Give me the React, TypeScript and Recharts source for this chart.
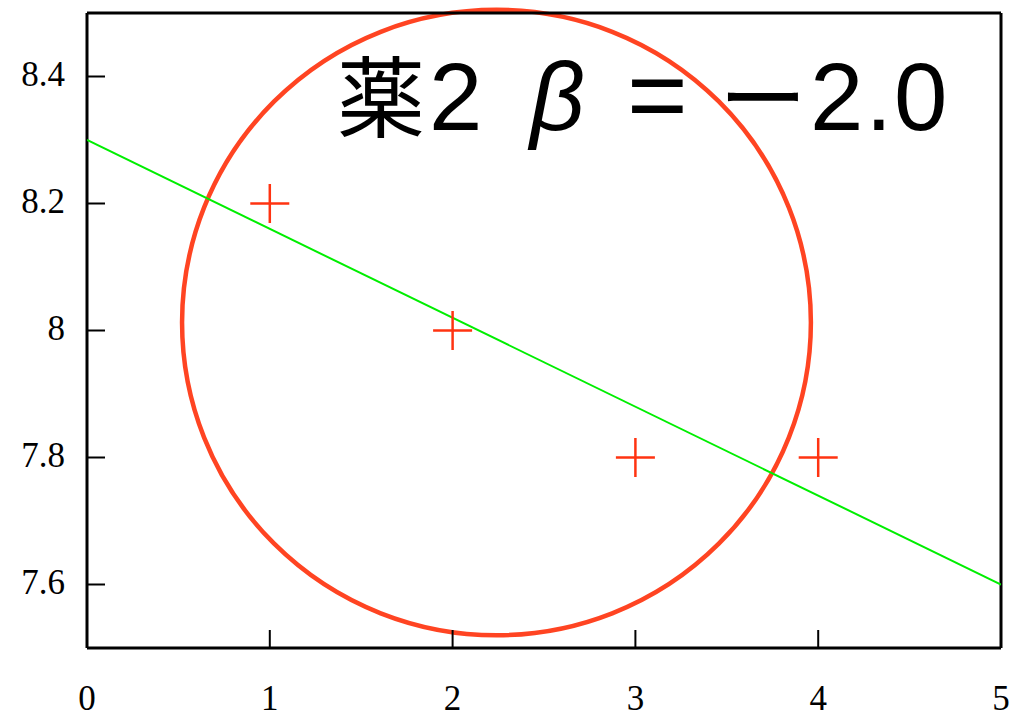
import {
  ComposedChart,
  Scatter,
  XAxis,
  YAxis,
  ReferenceArea,
  ReferenceDot,
} from "recharts";

// observed values
const obsX = [1, 2, 3, 4];
const obsY = [8.2, 8.0, 7.8, 7.8];

// fitted line end points
const fitX = [0, 5];
const fitY = [8.3, 7.6];

const xTicks = [0, 1, 2, 3, 4, 5];
const yTicks = [7.6, 7.8, 8, 8.2, 8.4];

// bounding box of the highlight ring
const ringX = [0.52, 3.96];
const ringY = [7.52, 8.505];

const caption = { x: 1.384, y: 8.315 };

const observed = obsX.map((x, i) => ({ x, y: obsY[i] }));
const fitted = fitX.map((x, i) => ({ x, y: fitY[i] }));

const RED = "#ff3311";
const RING = "#ff4422";
const GREEN = "#00ee00";

const tickFont = {
  fill: "#000",
  fontSize: 35,
  fontFamily: "'Liberation Serif', serif",
};

const CJK = "'Noto Sans CJK JP', sans-serif";
const LATIN = "'Liberation Sans', Arial, sans-serif";

function Plus(props: any) {
  const { cx, cy } = props;
  const h = 19.5;
  return (
    <g stroke={RED} strokeWidth={2.5}>
      <line x1={cx - h} y1={cy} x2={cx + h} y2={cy} />
      <line x1={cx} y1={cy - h} x2={cx} y2={cy + h} />
    </g>
  );
}

function Ring(props: any) {
  const { x, y, width, height } = props;
  return (
    <ellipse
      cx={x + width / 2}
      cy={y + height / 2}
      rx={width / 2}
      ry={height / 2}
      fill="none"
      stroke={RING}
      strokeWidth={4.5}
    />
  );
}

function Caption(props: any) {
  const { cx, cy } = props;
  return (
    <text y={cy} fill="#000">
      <tspan x={cx - 3} fontFamily={CJK} fontSize={88}>薬</tspan>
      <tspan x={cx + 89} fontFamily={LATIN} fontSize={96}>2</tspan>
      <tspan x={cx + 190} fontFamily={LATIN} fontSize={96} fontStyle="italic">β</tspan>
      <tspan x={cx + 287} fontFamily={LATIN} fontSize={104}>=</tspan>
      <tspan x={cx + 379} fontFamily={CJK} fontSize={88}>ー</tspan>
      <tspan x={cx + 470} fontFamily={LATIN} fontSize={96} letterSpacing={2}>2.0</tspan>
    </text>
  );
}

const none = () => <g />;

export default function App() {
  return (
    <div style={{ position: "absolute", left: 0, top: 0 }}>
      <ComposedChart
        width={1014}
        height={717}
        margin={{ top: 0, right: 0, bottom: 0, left: 0 }}
      >
        <XAxis
          xAxisId="b"
          dataKey="x"
          type="number"
          domain={[0, 5]}
          ticks={xTicks}
          height={69}
          tickSize={-18}
          tickMargin={55}
          tick={tickFont}
          axisLine={{ stroke: "#000", strokeWidth: 3 }}
          tickLine={{ stroke: "#000", strokeWidth: 2 }}
          allowDataOverflow
        />
        <XAxis
          xAxisId="t"
          orientation="top"
          dataKey="x"
          type="number"
          domain={[0, 5]}
          ticks={xTicks}
          height={13}
          tickSize={-18}
          tick={false}
          axisLine={{ stroke: "#000", strokeWidth: 3 }}
          tickLine={{ stroke: "#000", strokeWidth: 2 }}
          allowDataOverflow
        />
        <YAxis
          yAxisId="l"
          dataKey="y"
          type="number"
          domain={[7.5, 8.5]}
          ticks={yTicks}
          width={87}
          tickSize={-18}
          tickMargin={40}
          tick={{ ...tickFont, dy: -3 }}
          axisLine={{ stroke: "#000", strokeWidth: 3 }}
          tickLine={{ stroke: "#000", strokeWidth: 2 }}
          allowDataOverflow
        />
        <YAxis
          yAxisId="r"
          orientation="right"
          dataKey="y"
          type="number"
          domain={[7.5, 8.5]}
          ticks={yTicks}
          width={13}
          tickSize={-18}
          tick={false}
          axisLine={{ stroke: "#000", strokeWidth: 3 }}
          tickLine={{ stroke: "#000", strokeWidth: 2 }}
          allowDataOverflow
        />
        <Scatter
          xAxisId="b"
          yAxisId="l"
          data={fitted}
          line={{ stroke: GREEN, strokeWidth: 2 }}
          shape={none}
          isAnimationActive={false}
        />
        <Scatter
          xAxisId="b"
          yAxisId="l"
          data={observed}
          shape={Plus}
          isAnimationActive={false}
        />
        <ReferenceArea
          xAxisId="b"
          yAxisId="l"
          x1={ringX[0]}
          x2={ringX[1]}
          y1={ringY[0]}
          y2={ringY[1]}
          ifOverflow="visible"
          shape={Ring}
        />
        <ReferenceDot
          xAxisId="b"
          yAxisId="l"
          x={caption.x}
          y={caption.y}
          r={0}
          ifOverflow="visible"
          shape={Caption}
        />
      </ComposedChart>
    </div>
  );
}
